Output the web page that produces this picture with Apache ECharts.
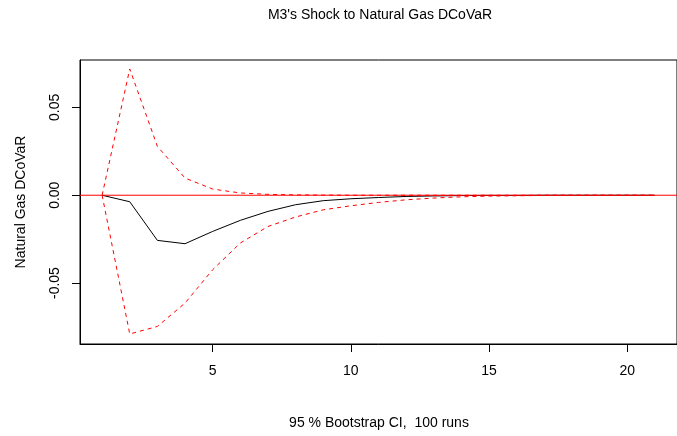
<!DOCTYPE html>
<html>
<head>
<meta charset="utf-8">
<script src="https://cdn.jsdelivr.net/npm/echarts@6/dist/echarts.min.js"></script>
<style>
  html, body { margin: 0; padding: 0; background: #fff; }
  #chart { width: 677px; height: 436px; }
</style>
</head>
<body>
<div id="chart"></div>
<script>
// Forecast horizon (periods ahead)
const steps = [1,2,3,4,5,6,7,8,9,10,11,12,13,14,15,16,17,18,19,20,21];
// Orthogonal impulse response of Natural Gas DCoVaR to an M3 shock
const irf = [0, -0.0037, -0.0257, -0.0276, -0.0206, -0.0143, -0.0092, -0.0054, -0.0031, -0.0020,
             -0.0013, -0.0007, -0.0004, -0.0002, -0.0001, -0.0001, 0, 0, 0, 0, 0];
// 95% bootstrap confidence band
const upper = [0, 0.0719, 0.0278, 0.0098, 0.0035, 0.0013, 0.0005, 0.0002, 0.0001, 0, 0,
               0, 0, 0, 0, 0, 0, 0, 0, 0, 0];
const lower = [0, -0.0790, -0.0747, -0.0614, -0.0424, -0.0272, -0.0178, -0.0124, -0.0083, -0.0060,
               -0.0041, -0.0026, -0.0016, -0.0009, -0.0005, -0.0003, -0.0001, 0, 0, 0, 0];
const xTicks = [5, 10, 15, 20];
const yTicks = [-0.05, 0, 0.05];

const pairs = (ys) => steps.map((s, i) => [s, ys[i]]);
const font = '"Liberation Sans", Arial, sans-serif';

const chart = echarts.init(document.getElementById('chart'), null, { renderer: 'canvas' });
chart.setOption({
  animation: false,
  backgroundColor: '#fff',
  grid: {
    left: 80, top: 60, width: 601, height: 284,
    show: true, borderColor: '#000', borderWidth: 1, backgroundColor: 'transparent'
  },
  xAxis: {
    type: 'value', min: 0.2, max: 21.8,
    axisLine: { show: true, onZero: false, lineStyle: { color: '#000', width: 1 } },
    axisTick: { show: true, length: 8, customValues: xTicks, lineStyle: { color: '#000' } },
    axisLabel: { customValues: xTicks, margin: 20, color: '#000', fontSize: 14, fontFamily: font },
    splitLine: { show: false }
  },
  yAxis: {
    type: 'value', min: -0.0847, max: 0.0770,
    axisLine: { show: true, onZero: false, lineStyle: { color: '#000', width: 1 } },
    axisTick: { show: true, length: 8, customValues: yTicks, lineStyle: { color: '#000' } },
    axisLabel: {
      customValues: yTicks, rotate: 90, margin: 18, color: '#000', fontSize: 14, fontFamily: font,
      formatter: (v) => v.toFixed(2)
    },
    splitLine: { show: false }
  },
  graphic: [
    { type: 'text', x: 380, y: 15,
      style: { text: "M3's Shock to Natural Gas DCoVaR", align: 'center', verticalAlign: 'middle',
               fill: '#000', font: '14px ' + font } },
    { type: 'text', x: 379, y: 423,
      style: { text: '95 % Bootstrap CI,  100 runs', align: 'center', verticalAlign: 'middle',
               fill: '#000', font: '14px ' + font } },
    { type: 'text', x: 21, y: 202, rotation: Math.PI / 2,
      style: { text: 'Natural Gas DCoVaR', align: 'center', verticalAlign: 'middle',
               fill: '#000', font: '14px ' + font } }
  ],
  series: [
    { type: 'line', data: pairs(irf), symbol: 'none', z: 2,
      lineStyle: { color: '#000', width: 1 } },
    { type: 'line', data: pairs(upper), symbol: 'none', z: 3,
      lineStyle: { color: '#ff0000', width: 1, type: [4, 4] } },
    { type: 'line', data: pairs(lower), symbol: 'none', z: 3,
      lineStyle: { color: '#ff0000', width: 1, type: [4, 4] } },
    { type: 'line', data: [[0.2, 0], [21.8, 0]], symbol: 'none', z: 4,
      lineStyle: { color: '#ff0000', width: 1 } }
  ]
});
</script>
</body>
</html>
